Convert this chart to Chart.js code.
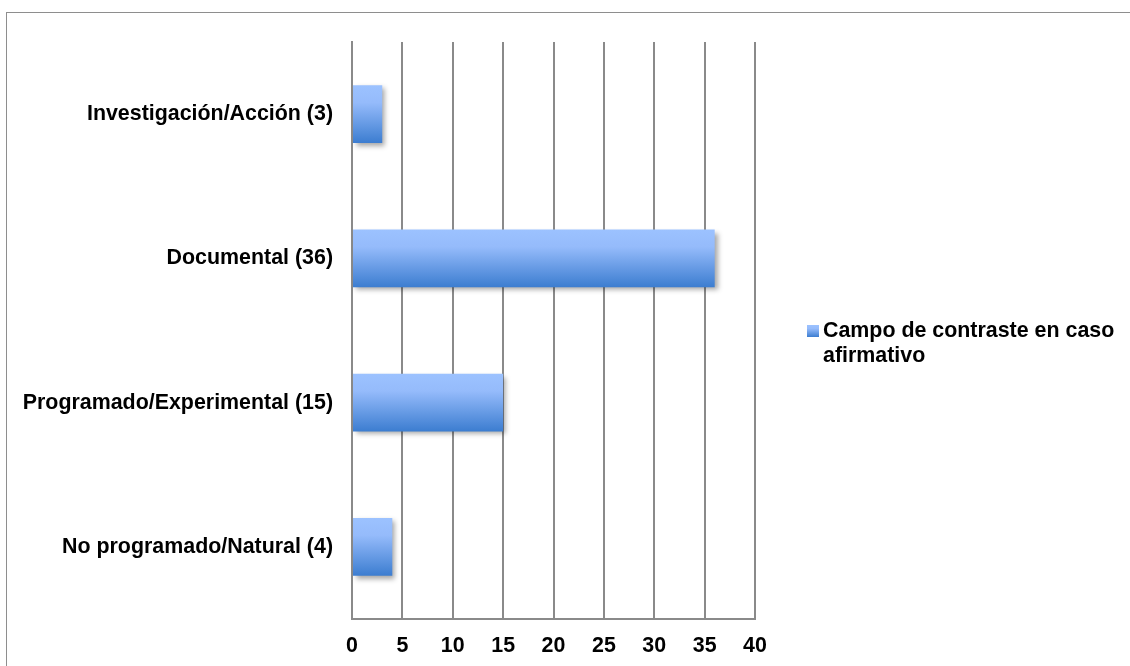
<!DOCTYPE html>
<html>
<head>
<meta charset="utf-8">
<script src="https://cdn.jsdelivr.net/npm/chart.js@4.4.1/dist/chart.umd.min.js"></script>
<style>
  html, body { margin: 0; padding: 0; background: #ffffff; }
  #wrap { position: relative; width: 1130px; height: 666px; overflow: hidden; background: #ffffff; }
  #frame { position: absolute; left: 6px; top: 12px; width: 1300px; height: 800px;
           border-left: 1.5px solid #8e8e8e; border-top: 1.5px solid #8e8e8e; }
  #c { position: absolute; left: 0; top: 0; }
</style>
</head>
<body>
<div id="wrap">
  <div id="frame"></div>
  <canvas id="c" width="1130" height="666"></canvas>
</div>
<script>
// Research method categories and their counts
const categories = ['Investigación/Acción', 'Documental', 'Programado/Experimental', 'No programado/Natural'];
const counts = [3, 36, 15, 4];
const seriesName = 'Campo de contraste en caso afirmativo';
const xTickValues = [0, 5, 10, 15, 20, 25, 30, 35, 40];

const categoryLabels = categories.map((name, i) => name + ' (' + counts[i] + ')');

const FONT = { family: "'Liberation Sans', Arial, sans-serif", size: 21.4, weight: 'bold' };
const GRID = '#8a8a8a';
const BAR_PCT = 0.4;

function makeGradient(c2d, top, bottom) {
  const g = c2d.createLinearGradient(0, top, 0, bottom);
  g.addColorStop(0, '#9cc2ff');
  g.addColorStop(0.3, '#95bbfb');
  g.addColorStop(1, '#3c7dd0');
  return g;
}

function barFill(ctx) {
  const chart = ctx.chart;
  const y = chart.scales.y;
  if (!chart.chartArea || !y || ctx.dataIndex === undefined) return '#6a9ee8';
  const center = y.getPixelForValue(ctx.dataIndex);
  const h = (y.height / categories.length) * BAR_PCT;
  return makeGradient(chart.ctx, center - h / 2, center + h / 2);
}

// soft drop shadow behind the bars
const barShadow = {
  id: 'barShadow',
  beforeDatasetsDraw(chart) {
    const c = chart.ctx;
    c.save();
    c.shadowColor = 'rgba(0,0,0,0.35)';
    c.shadowBlur = 5;
    c.shadowOffsetX = 3;
    c.shadowOffsetY = 3;
  },
  afterDatasetsDraw(chart) {
    chart.ctx.restore();
  }
};

// legend entry on the right, wrapped over two lines
const sideLegend = {
  id: 'sideLegend',
  afterDraw(chart) {
    const c = chart.ctx;
    const x0 = 807, box = 12, textX = 823, firstBase = 337, lineH = 25, maxW = 300;
    c.save();
    c.font = FONT.weight + ' ' + FONT.size + 'px ' + FONT.family;
    c.fillStyle = '#000000';
    c.textBaseline = 'alphabetic';
    c.textAlign = 'left';
    const words = chart.data.datasets[0].label.split(' ');
    const lines = [];
    let cur = '';
    words.forEach(w => {
      const test = cur ? cur + ' ' + w : w;
      if (c.measureText(test).width > maxW && cur) { lines.push(cur); cur = w; }
      else cur = test;
    });
    if (cur) lines.push(cur);
    lines.forEach((ln, i) => c.fillText(ln, textX, firstBase + i * lineH));
    c.fillStyle = makeGradient(c, firstBase - 12, firstBase);
    c.fillRect(x0, firstBase - 12, box, box);
    c.restore();
  }
};

Chart.defaults.font.family = FONT.family;
Chart.defaults.font.size = FONT.size;
Chart.defaults.font.weight = FONT.weight;
Chart.defaults.color = '#000000';

new Chart(document.getElementById('c'), {
  type: 'bar',
  data: {
    labels: categoryLabels,
    datasets: [{
      label: seriesName,
      data: counts,
      backgroundColor: barFill,
      borderWidth: 0,
      barPercentage: BAR_PCT,
      categoryPercentage: 1.0
    }]
  },
  options: {
    indexAxis: 'y',
    responsive: false,
    animation: false,
    devicePixelRatio: 1,
    layout: { padding: { top: 42, right: 375, bottom: 0, left: 0 } },
    plugins: {
      legend: { display: false },
      tooltip: { enabled: false }
    },
    scales: {
      x: {
        min: xTickValues[0],
        max: xTickValues[xTickValues.length - 1],
        afterBuildTicks(scale) { scale.ticks = xTickValues.map(v => ({ value: v })); },
        afterFit(scale) { scale.height = 47; },
        grid: { color: GRID, lineWidth: 2, drawTicks: false },
        border: { display: true, color: GRID, width: 2 },
        ticks: { padding: 14, font: FONT, color: '#000000' }
      },
      y: {
        afterFit(scale) { scale.width = 352; },
        grid: { display: false, drawTicks: false },
        border: { display: true, color: GRID, width: 2 },
        ticks: { padding: 19, font: FONT, color: '#000000' }
      }
    }
  },
  plugins: [barShadow, sideLegend]
});
</script>
</body>
</html>
